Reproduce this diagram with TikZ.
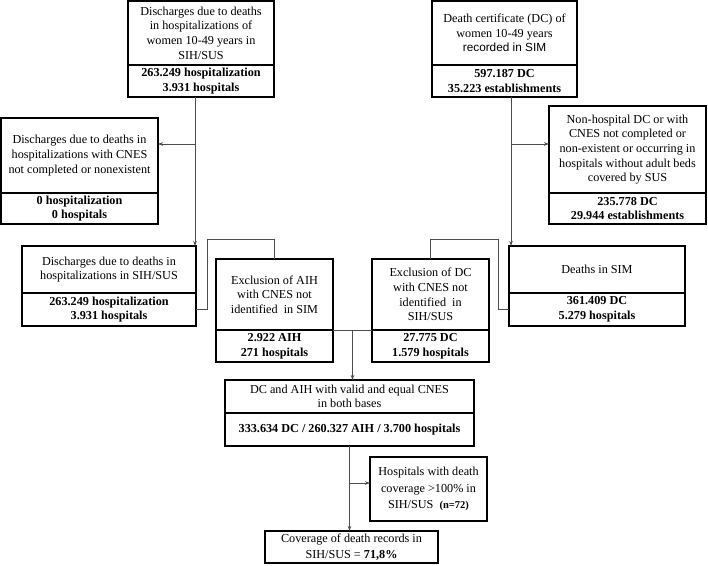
\documentclass[tikz,border=0pt]{standalone}
\usepackage{fontspec}
\setmainfont{Liberation Serif}
\newfontfamily\arialf{Liberation Sans}
\usetikzlibrary{arrows.meta,calc}
\begin{document}
\begin{tikzpicture}[x=1pt,y=-1pt,
 box/.style={draw=black, line width=1.2pt, inner sep=0pt, outer sep=0pt, anchor=north west, align=center, font=\fontsize{12.2}{14.7}\selectfont},
 conn/.style={draw=black!70, line width=0.8pt},
 arr/.style={conn, -{Stealth[length=5pt,width=3.5pt]}}]
\useasboundingbox (0,0) rectangle (708,565);
% top left
\node[box, minimum width=146pt, minimum height=64pt] (b1t) at (128,1) {Discharges due to deaths\\in hospitalizations of\\women 10-49 years in\\SIH/SUS};
\node[box, minimum width=146pt, minimum height=32pt] (b1b) at (128,65) {\textbf{263.249 hospitalization}\\\textbf{3.931 hospitals}};
% top right
\node[box, minimum width=145pt, minimum height=64pt] (b7t) at (432,1) {Death certificate (DC) of\\women 10-49 years\\{\arialf\fontsize{11.8}{14.7}\selectfont recorded in SIM}};
\node[box, minimum width=145pt, minimum height=32pt] (b7b) at (432,65) {\textbf{597.187 DC}\\\textbf{35.223 establishments}};
% left exclusion
\node[box, minimum width=157pt, minimum height=75pt] (b2t) at (1,118) {Discharges due to deaths in\\hospitalizations with CNES\\not completed or nonexistent};
\node[box, minimum width=157pt, minimum height=31pt] (b2b) at (1,193) {\textbf{0 hospitalization}\\\textbf{0 hospitals}};
% right exclusion
\node[box, minimum width=157pt, minimum height=87pt] (b8t) at (549,106) {Non-hospital DC or with\\CNES not completed or\\non-existent or occurring in\\hospitals without adult beds\\covered by SUS};
\node[box, minimum width=157pt, minimum height=31pt] (b8b) at (549,193) {\textbf{235.778 DC}\\\textbf{29.944 establishments}};
% second row
\node[box, minimum width=174pt, minimum height=47pt] (b3t) at (22,246) {Discharges due to deaths in\\hospitalizations in SIH/SUS};
\node[box, minimum width=174pt, minimum height=33pt] (b3b) at (22,293) {\textbf{263.249 hospitalization}\\\textbf{3.931 hospitals}};
\node[box, minimum width=176pt, minimum height=47pt] (b6t) at (509,246) {Deaths in SIM};
\node[box, minimum width=176pt, minimum height=33pt] (b6b) at (509,293) {\textbf{361.409 DC}\\\textbf{5.279 hospitals}};
\node[box, minimum width=117pt, minimum height=71pt] (b4t) at (216,259) {Exclusion of AIH\\with CNES not\\identified\ \ in SIM};
\node[box, minimum width=117pt, minimum height=32pt] (b4b) at (216,330) {\textbf{2.922 AIH}\\\textbf{271 hospitals}};
\node[box, minimum width=117pt, minimum height=71pt] (b5t) at (372,259) {Exclusion of DC\\with CNES not\\identified\ \ in\\SIH/SUS};
\node[box, minimum width=117pt, minimum height=32pt] (b5b) at (372,330) {\textbf{27.775 DC}\\\textbf{1.579 hospitals}};
% merged
\node[box, minimum width=249pt, minimum height=33pt, font=\fontsize{12.2}{14}\selectfont] (b9t) at (225,380) {DC and AIH with valid and equal CNES\\in both bases};
\node[box, minimum width=249pt, minimum height=33pt] (b9b) at (225,413) {\textbf{333.634 DC / 260.327 AIH / 3.700 hospitals}};
\node[box, minimum width=117pt, minimum height=64pt, font=\fontsize{12.2}{16.5}\selectfont] (b10) at (370,457) {Hospitals with death\\coverage >100\% in\\SIH/SUS\ \ {\fontsize{10.5}{12}\selectfont\textbf{(n=72)}}};
\node[box, minimum width=173pt, minimum height=32pt, font=\fontsize{12.2}{15.5}\selectfont] (b11) at (265,531) {Coverage of death records in\\SIH/SUS = \textbf{71,8\%}};
% connectors
\coordinate (j1) at (195,144);
\draw[arr] (j1 |- b1b.south) -- (j1 |- b3t.north);
\draw[arr] (j1) -- (j1 -| b2t.east);
\coordinate (j2) at (511,144);
\draw[arr] (j2 |- b7b.south) -- (j2 |- b6t.north);
\draw[arr] (j2) -- (j2 -| b8t.west);
\coordinate (e1) at (207,239);
\draw[conn] (b3b.east) -| (e1) -| (b4t.north);
\coordinate (e2) at (498,239);
\draw[conn] (b6b.west) -| (e2) -| (b5t.north);
\draw[conn] (b4t.south east) -- (b5t.south west);
\coordinate (m) at ($(b4t.south east)!0.5!(b5t.south west)$);
\draw[arr] (m) -- (m |- b9t.north);
\draw[arr] (b9b.south) -- (b9b.south |- b11.north);
\draw[arr] (b9b.south |- 0,483) -- (b10.west |- 0,483);
\end{tikzpicture}
\end{document}
